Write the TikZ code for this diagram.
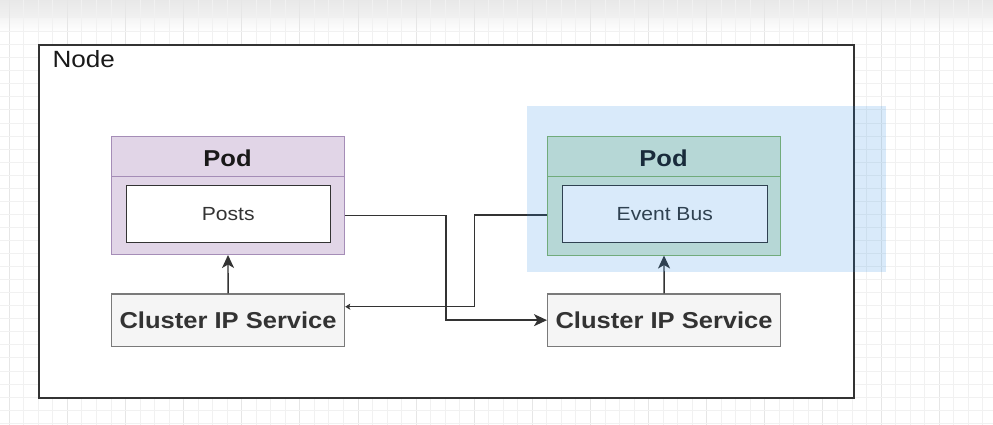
\documentclass[tikz,border=0pt]{standalone}
\usepackage{fontspec}
\usepackage{graphicx}
\setmainfont{Liberation Sans}
\usetikzlibrary{arrows.meta,calc}
\definecolor{gridminor}{HTML}{F1F1F1}
\definecolor{gridmajor}{HTML}{E6E6E6}
\definecolor{podpurplefill}{HTML}{E1D5E7}
\definecolor{podpurpleline}{HTML}{A58DB7}
\definecolor{podgreenfill}{HTML}{D5E8D4}
\definecolor{podgreenline}{HTML}{82B366}
\definecolor{cipfill}{HTML}{F5F5F5}
\definecolor{cipline}{HTML}{7A7A7A}
\definecolor{darkline}{HTML}{333333}
\definecolor{selblue}{RGB}{30,136,229}
\newcommand{\sx}[1]{\scalebox{1.11}[1]{#1}}
\tikzset{
  box/.style={draw, inner sep=0pt, anchor=north west},
  outerbox/.style={box, draw=darkline, line width=1.6pt, fill=white},
  podbox/.style={box, line width=1pt},
  appbox/.style={box, draw=darkline, line width=1.5pt, fill=white, text=darkline,
    font=\fontsize{19}{19}\selectfont},
  cipbox/.style={box, draw=cipline, line width=1.2pt, fill=cipfill, text=darkline,
    font=\fontsize{23}{23}\selectfont\bfseries},
  podtitle/.style={anchor=base, text=black!90, font=\fontsize{23}{23}\selectfont\bfseries},
  conn/.style={draw=darkline, line width=1.4pt},
  tip/.style={-{Stealth[length=13pt,width=12pt,inset=3.5pt]}},
  smalltip/.style={-{Stealth[length=5pt,width=6pt,inset=1pt]}},
}
\begin{document}
\begin{tikzpicture}[x=1pt,y=-1pt]
\useasboundingbox (0,0) rectangle (993,425);
% background and top shading
\fill[white] (0,0) rectangle (993,425);
\shade[top color=gridmajor!90, bottom color=gridminor] (0,0) rectangle (993,19);
\shade[top color=gridminor!70, bottom color=white] (0,19) rectangle (993,32);
% grid
\foreach \k in {0,...,67} {
  \pgfmathtruncatemacro{\m}{mod(\k,4)}
  \ifnum\m=0
    \draw[gridmajor, line width=1pt] ({9.3+14.53*\k},0) -- ({9.3+14.53*\k},425);
  \else
    \draw[gridminor, line width=1pt] ({9.3+14.53*\k},0) -- ({9.3+14.53*\k},425);
  \fi
}
\foreach \k in {0,...,30} {
  \draw[gridminor, line width=1pt] (0,{31.7+13.05*\k}) -- (993,{31.7+13.05*\k});
}
% outer Node box
\node[outerbox, minimum width=815pt, minimum height=353pt] (nodebox) at (38,44) {};
\node[anchor=base west, text=black!90, font=\fontsize{23.5}{23.5}\selectfont] (nodelabel) at (49,68) {\sx{Node}};
% left pod
\node[podbox, draw=podpurpleline, fill=podpurplefill, minimum width=233pt, minimum height=118pt] (lpod) at (111,136) {};
\draw[podpurpleline, line width=1pt] ([yshift=-40pt]lpod.north west) -- ([yshift=-40pt]lpod.north east);
\node[podtitle] (lpodtitle) at (227.5,166.5) {\sx{Pod}};
\node[appbox, minimum width=204pt, minimum height=57pt] (posts) at (125.5,184.5) {\sx{Posts}};
% right pod
\node[podbox, draw=podgreenline, fill=podgreenfill, minimum width=233pt, minimum height=118pt] (rpod) at (547,136.5) {};
\draw[podgreenline, line width=1pt] ([yshift=-39.5pt]rpod.north west) -- ([yshift=-39.5pt]rpod.north east);
\node[podtitle] (rpodtitle) at (663.5,166.5) {\sx{Pod}};
\node[appbox, minimum width=205pt, minimum height=57pt] (evbus) at (561.5,184.5) {\sx{Event Bus}};
% cluster IP services
\node[cipbox, minimum width=233pt, minimum height=52.5pt] (lcip) at (111,293.3) {\sx{Cluster IP Service}};
\node[cipbox, minimum width=233pt, minimum height=52.5pt] (rcip) at (547,293.3) {\sx{Cluster IP Service}};
% connectors
\coordinate (bendA) at (446,319.5);
\coordinate (bendB) at (474.3,306.7);
\draw[conn, tip] (lcip.north) -- (lpod.south);
\draw[conn, tip] (rcip.north) -- (rpod.south);
\draw[conn, tip] ([yshift=-1.5pt]lpod.east |- posts.east) -| (bendA |- rcip.west) -- (rcip.west);
\draw[conn, smalltip] ([yshift=-1.2pt]rpod.west |- evbus.west) -| (bendB) -- (lcip.east |- bendB);
% selection highlight
\fill[selblue, fill opacity=0.17] (526.7,106) rectangle (886,272.3);
\end{tikzpicture}
\end{document}
